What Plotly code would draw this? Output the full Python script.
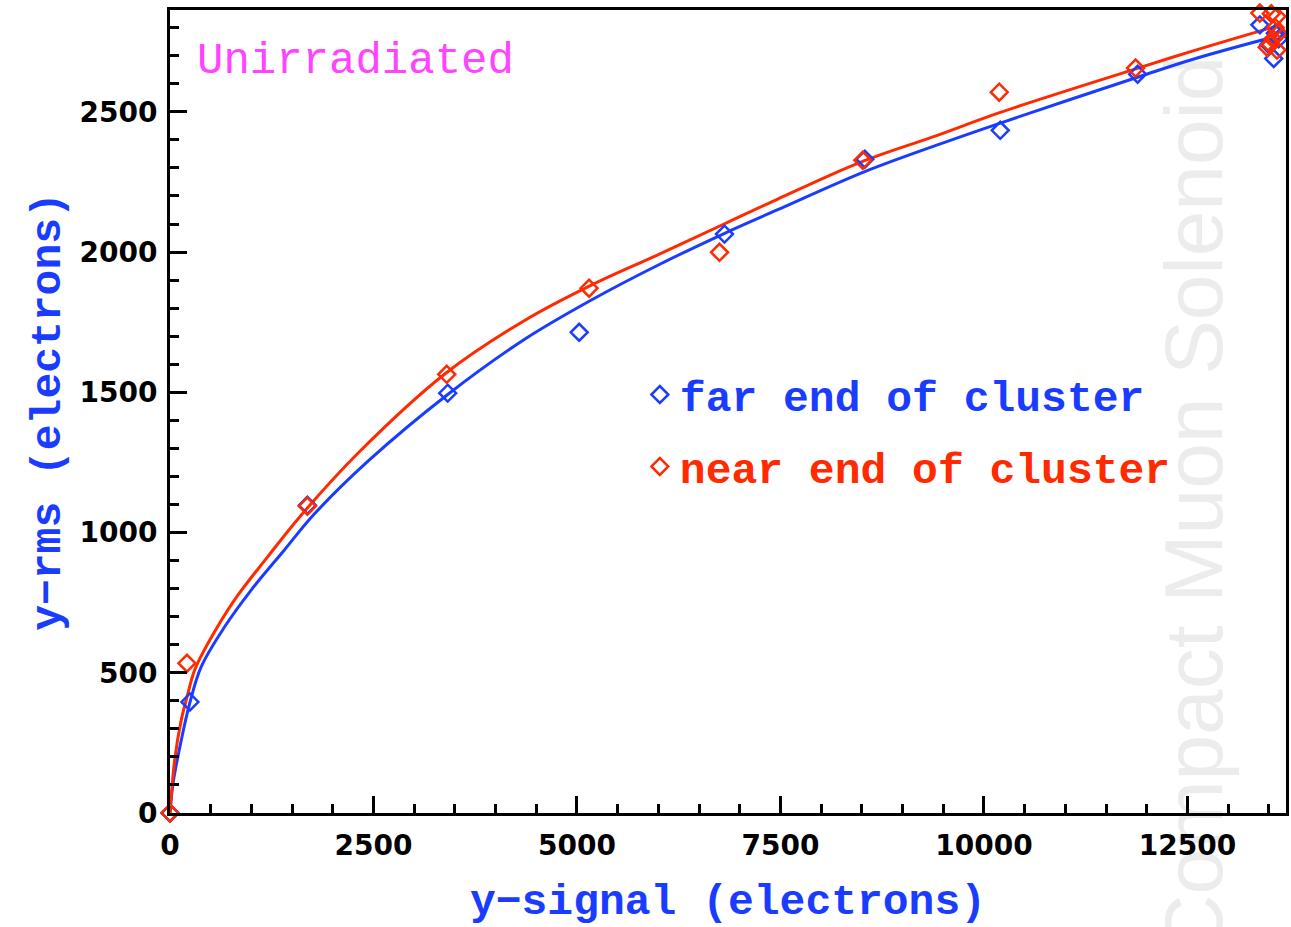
import plotly.graph_objects as go

# measured data points (electrons)
far_x = [0, 245, 1688, 3412, 5027, 6812, 8537, 10200, 11888, 13390, 13560, 13500, 13580, 13620]
far_y = [0, 396, 1097, 1497, 1714, 2064, 2331, 2434, 2634, 2810, 2690, 2740, 2780, 2760]
near_x = [0, 208, 1688, 3400, 5149, 6751, 8512, 10188, 11863, 13390, 13530, 13600, 13580, 13550, 13600, 13520, 13620, 13480]
near_y = [0, 534, 1094, 1564, 1871, 1999, 2327, 2570, 2656, 2852, 2850, 2840, 2800, 2760, 2720, 2740, 2780, 2730]

# fit curves
far_fit_x = [0, 37, 138, 241, 383, 669, 995, 1403, 1770, 2446, 3424, 4362, 5177, 5993, 6808, 7460, 8521, 9418, 10192, 11905, 12600, 13600]
far_fit_y = [0, 105, 259, 390, 521, 663, 794, 937, 1065, 1258, 1495, 1690, 1829, 1953, 2066, 2150, 2285, 2381, 2459, 2625, 2690, 2770]
near_fit_x = [0, 57, 138, 220, 302, 465, 791, 1199, 1606, 2324, 3384, 4362, 5177, 5993, 6808, 7460, 8480, 9418, 10192, 11866, 12600, 13600]
near_fit_y = [0, 188, 331, 426, 509, 604, 759, 913, 1060, 1287, 1567, 1757, 1882, 1990, 2100, 2188, 2320, 2415, 2497, 2653, 2720, 2806]

x_ticks = [0, 2500, 5000, 7500, 10000, 12500]
y_ticks = [0, 500, 1000, 1500, 2000, 2500]

BLUE = "#1a3cff"
RED = "#ff2a00"
MAGENTA = "#ff44ff"
TXT_FONT = "Liberation Mono"

fig = go.Figure()

fig.add_trace(go.Scatter(x=far_fit_x, y=far_fit_y, mode="lines",
                         line=dict(color=BLUE, width=3, shape="spline", smoothing=1.0),
                         showlegend=False, hoverinfo="skip"))
fig.add_trace(go.Scatter(x=near_fit_x, y=near_fit_y, mode="lines",
                         line=dict(color=RED, width=3, shape="spline", smoothing=1.0),
                         showlegend=False, hoverinfo="skip"))
fig.add_trace(go.Scatter(x=far_x, y=far_y, mode="markers", cliponaxis=False,
                         marker=dict(symbol="diamond-open", size=13, color=BLUE, line=dict(width=2.5, color=BLUE)),
                         name=f"<span style='color:{BLUE}'>far end of cluster</span>",
                         legendgroup="far"))
fig.add_trace(go.Scatter(x=near_x, y=near_y, mode="markers", cliponaxis=False,
                         marker=dict(symbol="diamond-open", size=13, color=RED, line=dict(width=2.5, color=RED)),
                         name=f"<span style='color:{RED}'>near end of cluster</span>",
                         legendgroup="near"))

axis_common = dict(
    showgrid=False, zeroline=False, showline=True, linecolor="black", linewidth=3,
    mirror=True, ticks="inside", ticklen=17, tickwidth=3, tickcolor="black",
    tickfont=dict(family="DejaVu Sans", size=28, color="black", weight="bold"),
)

fig.update_xaxes(range=[0, 13711], tickvals=x_ticks, ticktext=[str(v) for v in x_ticks],
                 ticklabelstandoff=5,
                 minor=dict(ticks="inside", ticklen=9, tickwidth=2.5, tickcolor="black", dtick=500, tick0=0),
                 title=dict(text="y\u2212signal (electrons)", font=dict(family=TXT_FONT, size=43, color=BLUE, weight="bold"), standoff=24),
                 **axis_common)
fig.update_yaxes(range=[0, 2863], tickvals=y_ticks, ticktext=[str(v) for v in y_ticks],
                 ticklabelstandoff=4,
                 minor=dict(ticks="inside", ticklen=9, tickwidth=2.5, tickcolor="black", dtick=100, tick0=0),
                 title=dict(text="y\u2212rms (electrons)", font=dict(family=TXT_FONT, size=43, color=BLUE, weight="bold"), standoff=6),
                 **axis_common)

fig.add_annotation(text="Unirradiated", xref="paper", yref="paper", x=0.022, y=0.936,
                   xanchor="left", yanchor="middle", showarrow=False,
                   font=dict(family="Liberation Mono", size=44, color=MAGENTA))

# faint watermark
fig.add_shape(type="rect", xref="paper", yref="paper", x0=0.86, x1=0.96, y0=0.084, y1=0.684,
              line=dict(width=0), fillcolor="rgba(0,0,0,0)", layer="below",
              label=dict(text="Compact Muon Solenoid", textangle=-90, textposition="middle center",
                         font=dict(family="Liberation Sans", size=82, color="#ececec")))

fig.update_layout(
    width=1291, height=927,
    margin=dict(l=170, r=2, t=10, b=114),
    paper_bgcolor="white", plot_bgcolor="white",
    legend=dict(x=0.421, y=0.564, xanchor="left", yanchor="top", bgcolor="rgba(0,0,0,0)",
                font=dict(family=TXT_FONT, size=43, weight="bold"), tracegroupgap=13, itemwidth=30),
)

fig.write_html("out.html")
